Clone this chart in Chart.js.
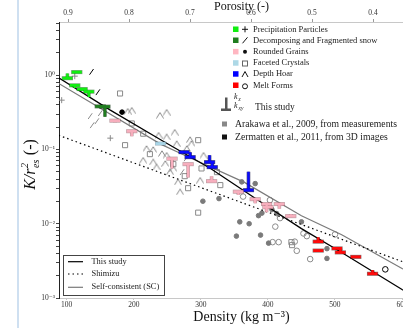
<!DOCTYPE html>
<html>
<head>
<meta charset="utf-8">
<script src="https://cdn.jsdelivr.net/npm/chart.js@4.4.1/dist/chart.umd.min.js"></script>
<style>
  html, body { margin: 0; padding: 0; background: #fff; overflow: hidden; }
  #wrap { position: relative; width: 403px; height: 328px; overflow: hidden; }
  #chart { position: absolute; left: 0; top: 0; }
  #edge { position: absolute; left: 17px; top: 0; width: 2px; height: 328px; background: #cfe0f1; }
</style>
</head>
<body>
<div id="wrap">
  <canvas id="chart" width="440" height="328"></canvas>
  <div id="edge"></div>
</div>
<script>
// Permeability vs density - snow samples and models
(function() {
    'use strict';

    // Axis ticks
    var densityTicks = [100, 200, 300, 400, 500, 600];
    var porosityTicks = [0.9, 0.8, 0.7, 0.6, 0.5, 0.4];
    var kMajor = [0.001, 0.01, 0.1, 1];
    var kMajorLabels = ['10\u207B\u00B3', '10\u207B\u00B2', '10\u207B\u00B9', '10\u2070'];
    var kMinor = [0.002, 0.003, 0.004, 0.005, 0.006, 0.007, 0.008, 0.009,
                  0.02, 0.03, 0.04, 0.05, 0.06, 0.07, 0.08, 0.09,
                  0.2, 0.3, 0.4, 0.5, 0.6, 0.7, 0.8, 0.9, 2, 3, 4, 5];

    // Model curves
    var studyDens = [88, 165, 240, 315, 405, 450, 510, 600, 633];
    var studyK = [0.92, 0.338, 0.135, 0.055, 0.0158, 0.0086, 0.0041, 0.0013, 0.00088];
    var shimizuDens = [88, 633];
    var shimizuK = [0.155, 0.00241];
    var scDens = [88, 240, 270, 365, 450, 510, 600, 633];
    var scK = [0.775, 0.118, 0.088, 0.036, 0.0128, 0.0071, 0.0025, 0.0018];

    // This study: density, k_xy, k_z per snow type
    var ppDens = [101, 115, 112, 123, 133];
    var ppKxy = [0.91, 1.10, 0.73, 0.65, 0.60];
    var ppKz = [1.05, 1.10, 0.67, 0.61, 0.51];

    var dfDens = [150, 157];
    var dfKxy = [0.38, 0.377];
    var dfKz = [0.38, 0.276];

    var rgDens = [172, 197, 257, 281, 316, 356, 381, 398, 400, 417, 434];
    var rgKxy = [0.244, 0.176, 0.0752, 0.0634, 0.0374, 0.0270, 0.0214, 0.0184, 0.0167, 0.0184, 0.01265];
    var rgKz = [0.233, 0.151, 0.0555, 0.042, 0.0437, 0.0243, 0.0189, 0.0143, 0.0167, 0.01596, 0.01346];

    var fcDens = [240];
    var fcKxy = [0.12];
    var fcKz = [0.125];

    var dhDens = [275, 284, 313, 317, 371];
    var dhKxy = [0.092, 0.0788, 0.0675, 0.0578, 0.0283];
    var dhKz = [0.092, 0.092, 0.0838, 0.0675, 0.050];

    var mfDens = [475, 475, 503, 508, 531, 556];
    var mfKxy = [0.00574, 0.00435, 0.00465, 0.00411, 0.00358, 0.00212];
    var mfKz = [0.0066, 0.00435, 0.00465, 0.00465, 0.00358, 0.00238];

    // Arakawa et al. 2009 (grey)
    var arPlusDens = [92.5, 112, 165];
    var arPlusK = [0.461, 0.97, 0.142];
    var arSlashDens = [135, 145, 138, 150, 272, 278];
    var arSlashK = [0.281, 0.24, 0.212, 0.308, 0.0495, 0.076];
    var arDotDens = [303, 327, 361, 381, 358, 372, 353, 386, 391, 413, 406, 450, 389, 401, 488, 488];
    var arDotK = [0.0201, 0.0218, 0.0366, 0.0347, 0.0106, 0.0100, 0.00681, 0.01285, 0.0139, 0.0137, 0.0155, 0.0106, 0.00703, 0.00548, 0.00462, 0.00341];
    var arSquareDens = [179.5, 197, 214, 187, 296, 224, 259, 301, 324, 276, 281, 296, 329, 435, 436];
    var arSquareK = [0.567, 0.224, 0.163, 0.1143, 0.1334, 0.0865, 0.0634, 0.0555, 0.0495, 0.0437, 0.0301, 0.0141, 0.0331, 0.00565, 0.00515];
    var arCaretDens = [191, 197, 239, 249, 261, 237, 249, 284, 219, 229, 214, 229, 234, 242, 249, 254, 259, 266, 269, 286, 299, 304, 247, 279, 264];
    var arCaretK = [0.328, 0.338, 0.289, 0.318, 0.171, 0.156, 0.148, 0.136, 0.1031, 0.100, 0.0718, 0.0681, 0.0583, 0.0883, 0.0838, 0.050, 0.0555, 0.0366, 0.0269, 0.1205, 0.0386, 0.0838, 0.0648, 0.1031, 0.12];
    var arCircleDens = [363, 403, 418, 411, 453, 458, 407, 416, 440, 443, 463, 500];
    var arCircleK = [0.0232, 0.0208, 0.0119, 0.00914, 0.0074, 0.00681, 0.00565, 0.00565, 0.00574, 0.00432, 0.00334, 0.00718];

    // Zermatten et al. 2011 (black)
    var zmSlashDens = [137, 146.5];
    var zmSlashK = [1.108, 0.59];
    var zmDotDens = [182.5];
    var zmDotK = [0.318];
    var zmCircleDens = [575];
    var zmCircleK = [0.00243];

    var GREY = '#8a8a8a';
    var SERIF = '"Liberation Serif", "DejaVu Serif", serif';

    function pts(xs, ys) {
        return xs.map(function(x, i) { return {x: x, y: ys[i]}; });
    }

    function caret(color) {
        var c = document.createElement('canvas');
        c.width = 8; c.height = 7;
        var g = c.getContext('2d');
        g.strokeStyle = color;
        g.lineWidth = 1;
        g.beginPath();
        g.moveTo(0.5, 6.5); g.lineTo(4, 0.8); g.lineTo(7.5, 6.5);
        g.stroke();
        return c;
    }

    // k_xy as a horizontal bar, a stem up/down to k_z; outline drawn underneath
    function studySet(label, color, dens, kxy, kz, outline) {
        var data = [];
        for (var i = 0; i < dens.length; i++) {
            data.push({x: dens[i], y: kxy[i]}, {x: dens[i], y: kz[i]}, {x: dens[i], y: null});
        }
        return {
            label: label, data: data, showLine: true, spanGaps: false,
            borderColor: color, borderWidth: outline ? 3.6 : 2.4,
            pointStyle: 'line', pointBorderColor: color, pointBorderWidth: outline ? 4 : 2.8,
            pointRadius: function(c) { return c.dataIndex % 3 === 0 ? (outline ? 5.6 : 5) : 0; },
            order: outline ? 0.5 : 0
        };
    }

    function markerSet(label, xs, ys, style, color, radius, fill, rotation, order) {
        return {
            label: label, data: pts(xs, ys), showLine: false,
            pointStyle: style, pointRadius: radius, pointRotation: rotation || 0,
            pointBorderColor: color, pointBackgroundColor: fill,
            pointBorderWidth: 1, order: order
        };
    }

    function curveSet(label, xs, ys, color, width, dash) {
        return {
            label: label, data: pts(xs, ys), showLine: true,
            borderColor: color, borderWidth: width, borderDash: dash || [],
            pointRadius: 0, order: 1
        };
    }

    var types = [
        ['PP', '#11ee11', ppDens, ppKxy, ppKz, 'rgba(0,80,0,0.55)'],
        ['DF', '#1f7d1f', dfDens, dfKxy, dfKz, 'rgba(0,40,0,0.6)'],
        ['RG', '#f7aebd', rgDens, rgKxy, rgKz, 'rgba(120,60,70,0.5)'],
        ['FC', '#a9d6e8', fcDens, fcKxy, fcKz, 'rgba(60,100,120,0.45)'],
        ['DH', '#0a0aff', dhDens, dhKxy, dhKz, 'rgba(0,0,60,0.7)'],
        ['MF', '#ff0a0a', mfDens, mfKxy, mfKz, 'rgba(60,0,0,0.6)']
    ];

    var datasets = [];
    types.forEach(function(t) {
        datasets.push(studySet(t[0], t[1], t[2], t[3], t[4], false));
        datasets.push(studySet(t[0] + ' edge', t[5], t[2], t[3], t[4], true));
    });
    datasets.push(
        curveSet('This study', studyDens, studyK, '#000', 1.3),
        curveSet('Shimizu', shimizuDens, shimizuK, '#000', 1.2, [1.5, 3]),
        curveSet('Self-consistent (SC)', scDens, scK, '#7a7a7a', 1.2),
        markerSet('ZM /', zmSlashDens, zmSlashK, 'line', '#000', 3.5, '#000', -55, 2),
        markerSet('ZM dot', zmDotDens, zmDotK, 'circle', '#000', 2.3, '#000', 0, 2),
        markerSet('ZM circle', zmCircleDens, zmCircleK, 'circle', '#000', 2.8, 'rgba(0,0,0,0)', 0, 2),
        markerSet('AR +', arPlusDens, arPlusK, 'cross', GREY, 3, GREY, 0, 3),
        markerSet('AR /', arSlashDens, arSlashK, 'line', GREY, 3.5, GREY, -55, 3),
        markerSet('AR dot', arDotDens, arDotK, 'circle', '#7a7a7a', 2.3, '#7a7a7a', 0, 3),
        markerSet('AR square', arSquareDens, arSquareK, 'rect', GREY, 3.6, 'rgba(0,0,0,0)', 0, 3),
        markerSet('AR caret', arCaretDens, arCaretK, caret(GREY), GREY, 3, GREY, 0, 3),
        markerSet('AR circle', arCircleDens, arCircleK, 'circle', GREY, 2.8, 'rgba(0,0,0,0)', 0, 3)
    );

    var legendRows = [
        ['Precipitation Particles', '#11ee11', '+'],
        ['Decomposing and Fragmented snow', '#1f7d1f', '/'],
        ['Rounded Grains', '#ffb6c1', 'dot'],
        ['Faceted Crystals', '#add8e6', 'square'],
        ['Depth Hoar', '#0000ff', 'caret'],
        ['Melt Forms', '#ff0000', 'circle']
    ];
    var legendRowY = [29.3, 40.3, 51.7, 63, 74, 85.3];

    function drawSymbol(ctx, kind, x, y) {
        ctx.beginPath();
        ctx.strokeStyle = kind === 'square' ? '#666' : '#111';
        ctx.fillStyle = '#111';
        ctx.lineWidth = 1;
        if (kind === '+') {
            ctx.moveTo(x - 3, y); ctx.lineTo(x + 3, y);
            ctx.moveTo(x, y - 3); ctx.lineTo(x, y + 3);
            ctx.stroke();
        } else if (kind === '/') {
            ctx.moveTo(x - 2.5, y + 3); ctx.lineTo(x + 2.5, y - 3);
            ctx.stroke();
        } else if (kind === 'dot') {
            ctx.arc(x, y, 2, 0, Math.PI * 2);
            ctx.fill();
        } else if (kind === 'square') {
            ctx.strokeRect(x - 2.5, y - 2, 5, 5);
        } else if (kind === 'caret') {
            ctx.moveTo(x - 3, y + 3); ctx.lineTo(x, y - 2.5); ctx.lineTo(x + 3, y + 3);
            ctx.stroke();
        } else if (kind === 'circle') {
            ctx.arc(x, y + 1, 2.5, 0, Math.PI * 2);
            ctx.stroke();
        }
    }

    var annotations = {
        id: 'annotations',
        afterDraw: function(chart) {
            var ctx = chart.ctx;
            ctx.save();
            ctx.textBaseline = 'middle';
            ctx.textAlign = 'left';

            // snow type legend
            ctx.font = '8.5px ' + SERIF;
            legendRows.forEach(function(row, i) {
                var y = legendRowY[i];
                ctx.fillStyle = row[1];
                ctx.fillRect(233, y - 2.8, 5.5, 5.5);
                drawSymbol(ctx, row[2], 245, y);
                ctx.fillStyle = '#222';
                ctx.fillText(row[0], 253, y);
            });

            // this study symbol
            ctx.fillStyle = '#555';
            ctx.fillRect(221, 108.5, 10, 2.5);
            ctx.fillRect(225, 97.5, 2.5, 12);
            ctx.fillStyle = '#222';
            ctx.font = 'italic 8px ' + SERIF;
            ctx.fillText('k', 234, 97);
            ctx.fillText('k', 234, 106);
            ctx.font = 'italic 5.5px ' + SERIF;
            ctx.fillText('z', 238.5, 99.5);
            ctx.fillText('xy', 238.5, 108.5);
            ctx.font = '9.5px ' + SERIF;
            ctx.fillText('This study', 255, 107.5);

            // literature entries
            ctx.font = '9.7px ' + SERIF;
            ctx.fillStyle = '#888';
            ctx.fillRect(222, 121.5, 5, 5);
            ctx.fillStyle = '#111';
            ctx.fillRect(222, 134.5, 5, 5);
            ctx.fillStyle = '#222';
            ctx.fillText('Arakawa et al., 2009, from measurements', 235, 124);
            ctx.fillText('Zermatten et al., 2011, from 3D images', 235, 137);

            // model legend box
            ctx.fillStyle = '#fff';
            ctx.fillRect(63.5, 255.5, 101, 40);
            ctx.strokeStyle = '#444';
            ctx.lineWidth = 1;
            ctx.strokeRect(63.5, 255.5, 101, 40);
            ctx.beginPath();
            ctx.strokeStyle = '#000';
            ctx.lineWidth = 1.2;
            ctx.moveTo(68, 261.7); ctx.lineTo(83, 261.7);
            ctx.stroke();
            ctx.beginPath();
            ctx.setLineDash([1.5, 3]);
            ctx.moveTo(68, 274); ctx.lineTo(83, 274);
            ctx.stroke();
            ctx.setLineDash([]);
            ctx.beginPath();
            ctx.strokeStyle = '#7a7a7a';
            ctx.moveTo(68, 287.3); ctx.lineTo(83, 287.3);
            ctx.stroke();
            ctx.fillStyle = '#222';
            ctx.font = '8.4px ' + SERIF;
            ctx.fillText('This study', 91.5, 261.7);
            ctx.fillText('Shimizu', 91.5, 274);
            ctx.fillText('Self-consistent (SC)', 91.5, 287.3);

            // y axis title with sub/superscripts
            ctx.translate(31, 164.5);
            ctx.rotate(-Math.PI / 2);
            var big = 'italic 16px ' + SERIF;
            var small = 'italic 10px ' + SERIF;
            ctx.font = big;
            var w1 = ctx.measureText('K/r').width;
            ctx.font = small;
            var w2 = Math.max(ctx.measureText('2').width, ctx.measureText('es').width) + 1;
            ctx.font = '16px ' + SERIF;
            var w3 = ctx.measureText(' (-)').width;
            var x0 = -(w1 + w2 + w3) / 2;
            ctx.fillStyle = '#111';
            ctx.font = big;
            ctx.fillText('K/r', x0, 0);
            ctx.font = small;
            ctx.fillText('2', x0 + w1 + 0.5, -6);
            ctx.fillText('es', x0 + w1 + 0.5, 5);
            ctx.font = '16px ' + SERIF;
            ctx.fillText(' (-)', x0 + w1 + w2, 0);
            ctx.restore();
        }
    };

    new Chart(document.getElementById('chart'), {
        type: 'scatter',
        data: {datasets: datasets},
        options: {
            responsive: false,
            devicePixelRatio: 1,
            animation: false,
            layout: {padding: {left: 0, right: 16, top: 0, bottom: 0}},
            plugins: {legend: {display: false}, tooltip: {enabled: false}},
            scales: {
                x: {
                    type: 'linear', position: 'bottom', min: 88.5, max: 632.7,
                    afterBuildTicks: function(s) { s.ticks = densityTicks.map(function(v) { return {value: v}; }); },
                    afterFit: function(s) { s.height = 30; },
                    border: {color: '#c8c8c8', width: 1},
                    grid: {drawOnChartArea: false, tickLength: 2, color: '#c8c8c8'},
                    ticks: {padding: 1, color: '#333', font: {family: SERIF, size: 7.5}},
                    title: {display: true, text: 'Density (kg m\u207B\u00B3)', color: '#111',
                            font: {family: SERIF, size: 14}, padding: {top: 0, bottom: 2}}
                },
                x2: {
                    type: 'linear', position: 'top', reverse: true, min: 0.3164, max: 0.9148,
                    afterBuildTicks: function(s) { s.ticks = porosityTicks.map(function(v) { return {value: v}; }); },
                    afterFit: function(s) { s.height = 22; },
                    border: {color: '#c8c8c8', width: 1},
                    grid: {drawOnChartArea: false, tickLength: 3, color: '#999'},
                    ticks: {padding: 1, color: '#333', font: {family: SERIF, size: 7.5},
                            callback: function(v) { return v.toFixed(1); }},
                    title: {display: true, text: 'Porosity (-)', color: '#111',
                            font: {family: SERIF, size: 12}, padding: {top: 0, bottom: 0}}
                },
                y: {
                    type: 'logarithmic', position: 'left', min: 0.001, max: 5.2,
                    afterBuildTicks: function(s) {
                        s.ticks = kMajor.concat(kMinor).map(function(v) { return {value: v}; });
                    },
                    afterFit: function(s) { s.width = 59; },
                    border: {color: '#222', width: 1},
                    grid: {drawOnChartArea: false, tickLength: 3, color: '#444'},
                    ticks: {padding: 1, color: '#333', font: {family: SERIF, size: 7.5},
                            autoSkip: false,
                            callback: function(v) {
                                var i = kMajor.indexOf(v);
                                return i >= 0 ? kMajorLabels[i] : '';
                            }}
                }
            }
        },
        plugins: [annotations]
    });
})();
</script>
</body>
</html>
